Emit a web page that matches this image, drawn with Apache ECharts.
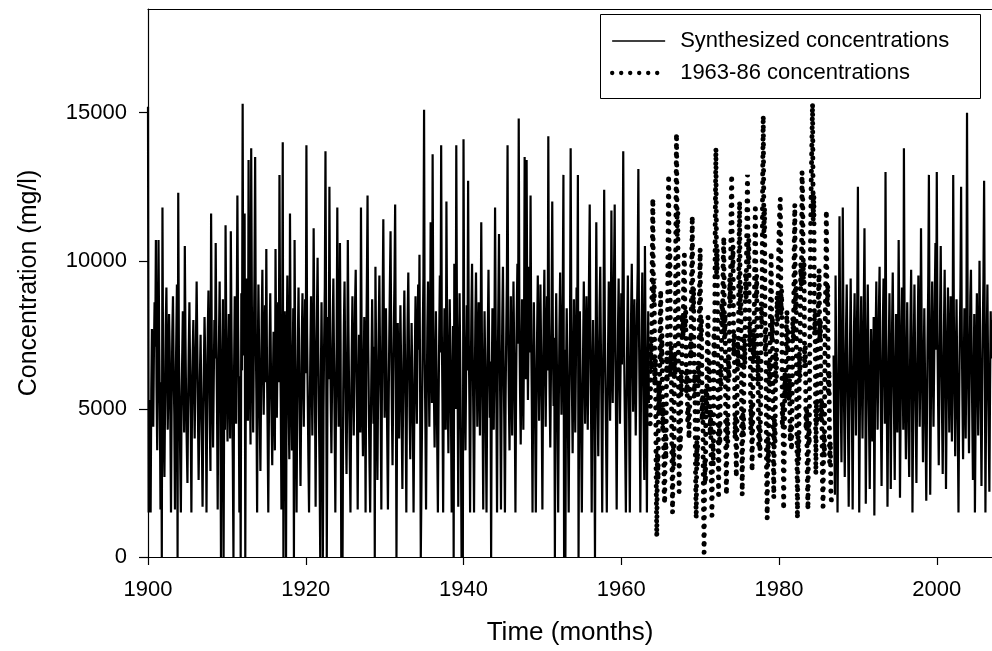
<!DOCTYPE html>
<html>
<head>
<meta charset="utf-8">
<script src="https://cdn.jsdelivr.net/npm/echarts@6/dist/echarts.min.js"></script>
<style>
  html, body { margin: 0; padding: 0; background: #fff; }
  #chart { width: 992px; height: 651px; }
</style>
</head>
<body>
<div id="chart"></div>
<script>
// Tick values for both axes
const xTickYears = [1900, 1920, 1940, 1960, 1980, 2000];
const yTickValues = [0, 5000, 10000, 15000];

// Synthesized monthly concentrations (mg/l), Jan 1900 - Jul 1963
const synthEarlyStart = [1900, 1];
const synthEarly = [
  15200, 1500, 5300, 4100, 1500, 5600, 7700, 6200, 4400, 6900, 8600, 7100,
  10700, 5800, 3600, 6400, 10700, 7300, 5100, 1600, 5900, 0, 11800, 6200,
  4100, 2700, 5300, 7800, 9100, 6600, 4300, 5800, 8200, 6900, 4600, 1500,
  5400, 7600, 8800, 6300, 4800, 1600, 5600, 7300, 9200, 0, 12300, 7000,
  5300, 3300, 1500, 4900, 6700, 8300, 6100, 4200, 10500, 7400, 5200, 3800,
  2500, 5100, 7000, 8600, 6400, 4700, 1500, 5300, 6900, 8000, 5800, 4000,
  5900, 7400, 9300, 7100, 4800, 2600, 4300, 6100, 7500, 5600, 3900, 1700,
  4400, 6300, 8100, 6800, 5000, 1500, 5200, 7700, 9000, 6600, 4500, 2900,
  11600, 7200, 5500, 3700, 5900, 8000, 6700, 10600, 7300, 5100, 1600, 5500,
  7400, 9300, 6200, 0, 4700, 6800, 8700, 0, 6000, 4300, 11200, 7800,
  5600, 3900, 6300, 8200, 6100, 4000, 11000, 7700, 5400, 3300, 0, 6400,
  8800, 6600, 4500, 8100, 12200, 7900, 5700, 1500, 6100, 0, 8900, 6300,
  15300, 6800, 9200, 11600, 0, 6900, 9400, 7100, 4600, 13400, 8600, 5900,
  3800, 13800, 8500, 6300, 4200, 7100, 9600, 13500, 7400, 5200, 1500, 6600,
  9200, 7000, 4700, 2900, 5500, 7900, 9700, 6800, 4800, 6700, 8500, 5900,
  10400, 6500, 4200, 1500, 4900, 7100, 8900, 6400, 4600, 3100, 5800, 7600,
  5500, 3600, 10400, 6900, 4700, 6800, 8600, 5900, 12900, 7500, 5200, 1600,
  6300, 14000, 0, 5900, 8300, 6600, 0, 7000, 9500, 7200, 4900, 3300,
  11600, 7300, 5200, 3600, 6100, 8400, 0, 10700, 6800, 4500, 1500, 5100,
  7300, 9100, 6500, 4300, 2400, 5000, 7400, 8900, 6300, 4400, 6600, 8700,
  6200, 13900, 7600, 5400, 3300, 1500, 4600, 6900, 8800, 6400, 4100, 6300,
  11100, 7800, 5500, 1700, 6000, 8200, 10100, 7100, 4800, 3000, 0, 6100,
  8600, 5800, 0, 4900, 7300, 9100, 13700, 7900, 0, 5600, 8100, 6000,
  12500, 7700, 5300, 3500, 5800, 7800, 9400, 6600, 4300, 1500, 5100, 7200,
  11800, 6500, 4400, 6900, 10600, 7200, 0, 4200, 0, 5500, 7800, 9300,
  6700, 4600, 2800, 5300, 10700, 7600, 5400, 3300, 1500, 4700, 7000, 8800,
  6100, 4100, 6400, 8500, 9700, 6900, 4800, 1600, 5200, 7500, 6300, 4200,
  11800, 7400, 5100, 3400, 5700, 8100, 6500, 1500, 6800, 9300, 12200, 7300,
  5000, 3100, 1500, 4400, 6600, 8700, 6700, 4500, 7100, 0, 9800, 7000,
  4800, 2600, 5500, 7700, 9500, 6800, 4900, 1600, 6200, 8600, 11400, 7200,
  4700, 6300, 8400, 6100, 3900, 1600, 4800, 7300, 9200, 11000, 7400, 5000,
  3100, 5600, 7700, 9400, 11900, 6400, 0, 5200, 7900, 6000, 4000, 6300,
  8500, 6600, 4400, 2300, 5100, 7400, 9000, 6700, 4600, 1500, 5800, 8000,
  9600, 7000, 4800, 3300, 5700, 7900, 6200, 4300, 1500, 4500, 6900, 8800,
  6500, 4500, 7300, 9200, 7000, 10200, 5600, 0, 0, 4800, 7600, 9400,
  15100, 6700, 4500, 1600, 5300, 7700, 9300, 6600, 4400, 6800, 11300, 7500,
  5200, 13600, 7900, 5500, 3700, 6000, 8300, 6100, 3800, 1500, 5000, 7400,
  9500, 6900, 13900, 7600, 5200, 1500, 5900, 8400, 6400, 4300, 12000, 7800,
  5400, 3500, 6200, 8700, 6800, 4600, 1500, 5700, 7800, 0, 9900, 7100,
  5000, 13900, 8200, 5900, 1700, 6300, 8900, 6600, 4200, 0, 2500, 0,
  14100, 7700, 5300, 3600, 6400, 8500, 6300, 12700, 7400, 5100, 1500, 5900,
  8300, 9900, 6900, 4600, 1500, 5400, 7900, 9600, 6800, 4400, 6500, 8600,
  6200, 4100, 7100, 11300, 7300, 5000, 1600, 5800, 8300, 6500, 4200, 1500,
  5500, 7700, 9700, 6900, 4700, 6600, 0, 5900, 8400, 6300, 4300, 7000,
  11800, 7600, 5200, 1500, 6000, 8500, 10900, 7300, 4900, 1600, 5600, 8100,
  9800, 6700, 4600, 1500, 5300, 7500, 9400, 13900, 7700, 5300, 3600, 6400,
  8800, 6300, 4100, 6800, 9300, 7100, 4800, 1500, 5700, 8200, 9900, 7200,
  14800, 8100, 5600, 3800, 6300, 8700, 6400, 4300, 7200, 13500, 8400, 6000,
  13400, 7800, 5300, 7600, 9800, 6900, 12200, 7400, 5000, 1500, 5900, 8600,
  6700, 4400, 1500, 5100, 7600, 9500, 6800, 4600, 6900, 9200, 7000, 4900,
  1600, 5800, 8000, 9700, 6600, 4400, 6700, 8800, 6300, 14200, 7900, 5500,
  3700, 6200, 8500, 12000, 7300, 5100, 7400, 0, 6500, 8900, 6600, 4300,
  1500, 5300, 7800, 9600, 7000, 4800, 6900, 8900, 12900, 0, 7000, 0,
  6100, 8400, 6200, 4100, 1500, 5200, 7600, 13800, 8000, 5600, 3500, 6300,
  8700, 6400, 4200, 6600, 9100, 7400, 12900, 0, 6000, 8300, 6100, 3900,
  1500, 4700, 7100, 9300, 6900, 4500, 6800, 8800, 6400, 4300, 7000, 9600,
  11900, 7300, 5000, 1500, 5900, 8000, 6200, 4400, 0, 6700, 11300, 7700,
  5300, 3400, 6000, 8400, 9800, 7100, 4800, 1500, 5500, 7800, 12400, 7900,
  5600, 3700, 1500, 4900, 7200, 9300, 6900, 4600, 6800, 11700, 7600, 5200,
  7800, 9600, 11900, 7000, 4700, 1600, 5400, 7700, 9400, 6700, 4500, 6600,
  8900, 6500, 9200, 13700, 7900, 5500, 3600, 1500, 4800, 7300, 9500, 6900,
  4600, 1500, 5700, 8200, 9900, 7200, 4900, 6800, 8700, 6300, 4100, 6100,
  8400, 9700, 13100, 7500, 5100, 1500, 5600, 7900, 9600, 6800, 4500, 2600,
  10500, 7200, 5000, 1500, 6100, 8300, 5200
];

// Synthesized monthly concentrations (mg/l), Dec 1986 - Jan 2007
const synthLateStart = [1986, 12];
const synthLate = [
  6800,
  4300, 2100, 9500, 6700, 4400, 1500, 4600, 7300, 11500, 7600, 5100, 3200,
  6400, 11800, 7500, 5000, 2700, 5400, 7800, 9200, 6600, 4300, 1700, 4900,
  7200, 9400, 6800, 4500, 1600, 5200, 7600, 8900, 6300, 4100, 6500, 8700,
  12500, 6900, 1500, 4800, 7100, 8800, 6200, 4000, 6400, 8600, 11100, 7000,
  1800, 4700, 7300, 9200, 6700, 4400, 2300, 5300, 7700, 6100, 3900, 5800,
  8100, 1400, 5000, 7400, 9300, 6500, 4300, 6600, 8400, 9800, 6900, 4600,
  2400, 5500, 7900, 9400, 6800, 4500, 13000, 7600, 5200, 1700, 4800, 7100,
  8900, 6300, 2300, 5400, 7800, 9600, 6900, 4700, 2600, 5700, 8200, 6400,
  4200, 6800, 10700, 7300, 2000, 4900, 7500, 9100, 6600, 4300, 13800, 7800,
  5400, 3300, 6100, 8600, 6400, 4200, 2700, 5600, 8000, 9700, 6900, 1500,
  4500, 7000, 9200, 6800, 4600, 2500, 5400, 7700, 9500, 6700, 4400, 6600,
  11100, 7700, 5300, 3200, 6000, 8400, 6300, 4100, 1900, 4700, 7300, 9200,
  12900, 7400, 2100, 5000, 7600, 9300, 6600, 4400, 6500, 8900, 10600, 7000,
  13000, 7600, 5200, 3100, 5900, 8100, 10500, 7200, 4800, 2800, 5600, 7900,
  9700, 6700, 2300, 5100, 7500, 9100, 6400, 4200, 6800, 8800, 6100, 3900,
  6300, 12900, 8100, 5600, 3400, 6200, 8700, 6500, 4300, 1500, 4900, 7400,
  9100, 12500, 7700, 5300, 3300, 6000, 8400, 6200, 4000, 7100, 15000, 7800,
  5500, 3500, 6300, 8800, 9700, 6900, 4700, 2600, 5800, 8200, 1500, 4600,
  7000, 8900, 6300, 4100, 6600, 10000, 7100, 4900, 2400, 5300, 7800, 9400,
  12700, 7500, 1500, 4900, 7300, 9200, 6500, 4300, 2200, 5600, 8300, 6700,
  8000
];

// Observed monthly concentrations (mg/l), Sep 1963 - Sep 1986
const obsStart = [1963, 9];
const obs = [
  4500, 7400, 6300, 9800,
  12100, 8600, 9400, 5800, 6700, 2900, 700, 3500, 2600, 5900, 4800, 7900,
  9000, 6600, 7500, 4300, 5200, 2400, 1800, 4200, 3300, 6800, 5900, 10200,
  12900, 9400, 10300, 6100, 7200, 3400, 1500, 3800, 3000, 6900, 6100, 11000,
  14300, 10800, 11600, 6200, 2200, 4400, 3700, 6300, 5500, 8200, 7400, 9600,
  10200, 7600, 8400, 5500, 6300, 4600, 5100, 4000, 5000, 7400, 6700, 9500,
  11500, 8300, 9100, 5400, 6200, 2800, 1300, 3900, 3100, 6600, 5800, 8900,
  10400, 7300, 8100, 4600, 5400, 1900, 150, 3300, 2500, 5700, 4900, 7400,
  8100, 6000, 6700, 4100, 4900, 2500, 1400, 3900, 3100, 7600, 6700, 11400,
  13800, 9600, 10400, 5300, 2100, 4500, 3800, 6500, 5700, 8600, 7800, 9900,
  10800, 7400, 8200, 3600, 2100, 4700, 3900, 6800, 6000, 9400, 8600, 11500,
  12900, 9700, 10500, 6800, 7600, 4000, 4800, 2700, 4400, 7200, 6400, 10100,
  12000, 8300, 9100, 4700, 2100, 4900, 4100, 7300, 6500, 9500, 8700, 11300,
  12900, 9900, 10700, 7100, 7900, 4300, 5100, 2900, 4600, 7500, 6700, 10000,
  11900, 8700, 9500, 6000, 6800, 3800, 4500, 3400, 5200, 8600, 7800, 12400,
  14900, 11000, 11800, 6900, 7700, 2900, 1300, 4000, 3200, 6600, 5800, 8700,
  10300, 7300, 8100, 4100, 2000, 4700, 3900, 6900, 6100, 8800, 8000, 9800,
  10900, 11700, 12100, 8200, 9000, 4400, 5200, 1600, 3600, 6200, 5400, 7700,
  8300, 6900, 7600, 5300, 6000, 3900, 4500, 3600, 5300, 8100, 7300, 10300,
  11900, 8300, 9100, 4600, 1300, 4100, 3300, 6900, 6100, 9900, 9100, 13000,
  12200, 9200, 10000, 6400, 7200, 4300, 5000, 2700, 1600, 4500, 3800, 7800,
  10800, 12700, 14000, 15300, 11400, 12200, 7500, 8300, 2800, 5300, 4500, 7400,
  8800, 9700, 7300, 8000, 4600, 5300, 2600, 1700, 4200, 3400, 7600, 9200,
  11700, 8500, 9200, 5600, 6300, 3200, 3900, 2100, 1800
];

const SOLID_NAME = 'Synthesized concentrations';
const OBS_NAME = '1963-86 concentrations';
const FONT = "'Liberation Sans', Arial, Helvetica, sans-serif";

// Monthly values -> [decimal year, value]
function monthly(start, values) {
  return values.map((v, i) => [start[0] + (start[1] - 1 + i) / 12, v]);
}

const dottedStyle = { color: '#000', width: 5, type: [0.1, 8.6], cap: 'round' };
const legendDotted = { color: '#000', width: 4.3, type: [0.1, 8.9], cap: 'round' };
const solidStyle = { color: '#000', width: 2.2 };
const legendSolid = { color: '#000', width: 1.5 };
const plainLabel = v => String(v);

const chart = echarts.init(document.getElementById('chart'), null, { renderer: 'canvas' });
chart.setOption({
  animation: false,
  backgroundColor: '#fff',
  color: ['#000'],
  grid: { left: 148, right: 0, top: 9, bottom: 94, containLabel: false },
  graphic: [{
    type: 'rect', left: 600, top: 14, z: 3,
    shape: { width: 380, height: 84 },
    style: { fill: '#fff', stroke: '#000', lineWidth: 1 }
  }],
  legend: {
    orient: 'vertical', left: 610, top: 29, padding: 0, z: 5,
    itemWidth: 53, itemHeight: 14, itemGap: 8,
    selectedMode: false,
    itemStyle: { opacity: 0 },
    textStyle: { color: '#000', fontSize: 22, fontFamily: FONT, lineHeight: 24, padding: [0, 0, 0, 10] },
    data: [
      { name: SOLID_NAME, lineStyle: legendSolid },
      { name: OBS_NAME, lineStyle: legendDotted }
    ]
  },
  xAxis: [{
    type: 'value', min: 1900, max: 2007, interval: 20,
    name: 'Time (months)', nameLocation: 'middle', nameGap: 63,
    nameTextStyle: { color: '#000', fontSize: 26, fontFamily: FONT },
    axisLine: { show: true, onZero: false, lineStyle: { color: '#000', width: 1.2 } },
    axisTick: { show: true, length: 8, customValues: xTickYears, lineStyle: { color: '#000', width: 1.2 } },
    axisLabel: { color: '#000', fontSize: 22, fontFamily: FONT, margin: 22, customValues: xTickYears, formatter: plainLabel },
    splitLine: { show: false }
  }, {
    type: 'value', position: 'top', min: 1900, max: 2007,
    axisLine: { show: true, onZero: false, lineStyle: { color: '#000', width: 1.2 } },
    axisTick: { show: false }, axisLabel: { show: false }, splitLine: { show: false }
  }],
  yAxis: {
    type: 'value', min: 0, max: 18500, interval: 5000,
    name: 'Concentration (mg/l)', nameLocation: 'middle', nameGap: 106,
    nameTextStyle: { color: '#000', fontSize: 25, fontFamily: FONT },
    axisLine: { show: true, lineStyle: { color: '#000', width: 1.2 } },
    axisTick: { show: true, length: 9, customValues: yTickValues, lineStyle: { color: '#000', width: 1.2 } },
    axisLabel: { color: '#000', fontSize: 22, fontFamily: FONT, margin: 21, customValues: yTickValues, formatter: plainLabel },
    splitLine: { show: false }
  },
  series: [
    { name: SOLID_NAME, type: 'line', symbol: 'none', color: '#000', lineStyle: solidStyle, z: 2,
      data: monthly(synthEarlyStart, synthEarly) },
    { name: SOLID_NAME, type: 'line', symbol: 'none', color: '#000', lineStyle: solidStyle, z: 2,
      data: monthly(synthLateStart, synthLate) },
    { name: OBS_NAME, type: 'line', symbol: 'none', color: '#000', lineStyle: dottedStyle, z: 2,
      data: monthly(obsStart, obs) }
  ]
});
</script>
</body>
</html>
